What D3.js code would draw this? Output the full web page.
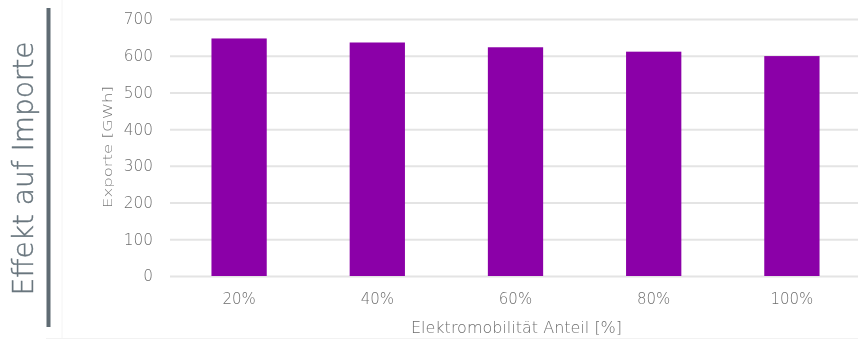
<!DOCTYPE html>
<html>
<head>
<meta charset="utf-8">
<script src="https://cdn.jsdelivr.net/npm/d3@7"></script>
<style>
  html, body { margin: 0; padding: 0; background: #fff; }
  svg { display: block; font-family: "DejaVu Sans", Verdana, sans-serif; will-change: transform; }
  text { -webkit-font-smoothing: antialiased; }
</style>
</head>
<body>
<svg id="chart" width="858" height="340"></svg>
<script>
// Exports per e-mobility share
const categories = ["20%", "40%", "60%", "80%", "100%"];
const exportsGWh = [647, 636, 623, 611, 599];
const yTicks = [0, 100, 200, 300, 400, 500, 600, 700];

const title = "Effekt auf Importe";
const yAxisTitle = "Exporte [GWh]";
const xAxisTitle = "Elektromobilität Anteil [%]";

const svg = d3.select("#chart");
const W = 858, H = 340;
const plot = { left: 170, right: 861, top: 19, bottom: 276 };
const labelFont = "'DejaVu Sans', Verdana, sans-serif";
const labelColor = "#6e6e6e";

// faint frame of the chart panel
svg.append("line").attr("x1", 62).attr("x2", 62).attr("y1", 0).attr("y2", 338)
  .attr("stroke", "#f4f4f4").attr("stroke-width", 1);
svg.append("line").attr("x1", 46).attr("x2", W).attr("y1", 338.5).attr("y2", 338.5)
  .attr("stroke", "#f2f2f2").attr("stroke-width", 1);

// side title with accent bar
svg.append("rect").attr("x", 46.5).attr("y", 8).attr("width", 4).attr("height", 319)
  .attr("fill", "#5f6b73");
svg.append("text")
  .attr("transform", "translate(33,168.5) rotate(-90)")
  .attr("text-anchor", "middle")
  .attr("font-size", 28)
  .attr("font-weight", 300)
  .attr("fill", "#69767e")
  .attr("stroke", "#69767e")
  .attr("stroke-width", 0.4)
  .text(title);

const x = d3.scaleBand().domain(categories).range([plot.left, plot.right])
  .paddingInner(0.6).paddingOuter(0.3);
const y = d3.scaleLinear().domain([0, 700]).range([plot.bottom, plot.top]);

// gridlines + y ticks
const yAxis = d3.axisLeft(y).tickValues(yTicks).tickSize(-(plot.right - plot.left)).tickPadding(17);
const gy = svg.append("g").attr("transform", `translate(${plot.left},0)`).call(yAxis);
gy.select(".domain").remove();
gy.selectAll(".tick line").attr("stroke", "#e4e4e4").attr("stroke-width", 2);
gy.selectAll(".tick text").attr("fill", labelColor).attr("font-size", 15.3)
  .attr("font-weight", 300).attr("font-family", labelFont);

// bars
svg.append("g").selectAll("rect").data(exportsGWh).join("rect")
  .attr("x", (d, i) => x(categories[i]))
  .attr("width", x.bandwidth())
  .attr("y", d => y(d))
  .attr("height", d => y(0) - y(d))
  .attr("fill", "#8b00a8");

// x axis labels
const xAxis = d3.axisBottom(x).tickSize(0).tickPadding(17);
const gx = svg.append("g").attr("transform", `translate(0,${plot.bottom})`).call(xAxis);
gx.select(".domain").remove();
gx.selectAll(".tick text").attr("fill", labelColor).attr("font-size", 15)
  .attr("font-weight", 300).attr("font-family", labelFont);

// axis titles
svg.append("text")
  .attr("transform", "translate(112,147) rotate(-90)")
  .attr("text-anchor", "middle")
  .attr("font-size", 12)
  .attr("font-weight", 300)
  .attr("textLength", 122)
  .attr("lengthAdjust", "spacingAndGlyphs")
  .attr("fill", "#777")
  .text(yAxisTitle);
svg.append("text")
  .attr("x", 516.5).attr("y", 333)
  .attr("text-anchor", "middle")
  .attr("font-size", 16)
  .attr("font-weight", 300)
  .attr("fill", labelColor)
  .text(xAxisTitle);
</script>
</body>
</html>
